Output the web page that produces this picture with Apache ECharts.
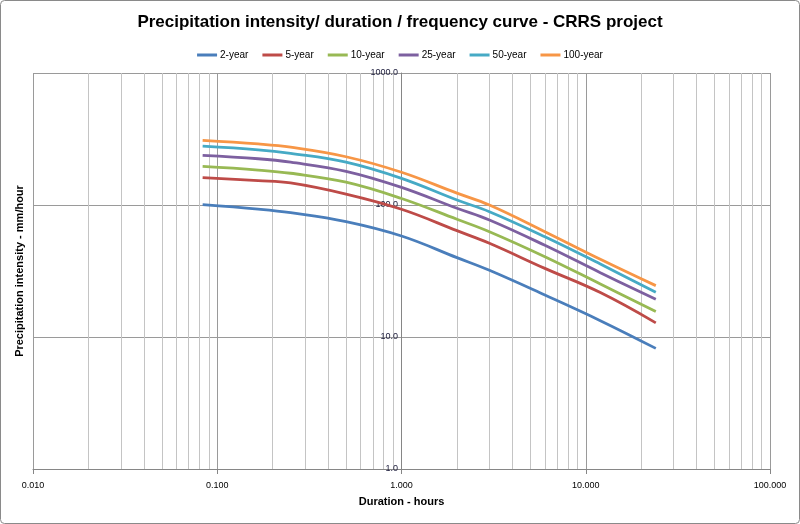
<!DOCTYPE html>
<html>
<head>
<meta charset="utf-8">
<script src="https://cdn.jsdelivr.net/npm/echarts@6/dist/echarts.min.js"></script>
<style>
html,body{margin:0;padding:0;background:#fff;}
#chart{width:800px;height:524px;}
</style>
</head>
<body>
<div id="chart"></div>
<script>
// Durations (hours)
const durations = [0.0833, 0.1667, 0.25, 0.5, 1, 2, 3, 6, 12, 24];
// Intensities (mm/hour) by return period
const y2   = [100.5, 93, 87.4, 74.8, 58.2, 39.9, 32, 20.8, 13.3, 8.2];
const y5   = [161, 153, 147, 121, 92.8, 63.9, 51.3, 33.1, 21.7, 12.8];
const y10  = [196, 184, 174, 149, 112, 78, 62.8, 40.6, 25.2, 15.6];
const y25  = [238, 224, 211, 180, 136, 94.4, 77, 49.5, 30.7, 19.3];
const y50  = [279, 262, 246, 211, 159, 109, 89, 57.5, 35.7, 21.8];
const y100 = [309, 290, 274, 232, 177, 123, 100, 62.8, 38.8, 24.5];
const seriesNames = ['2-year', '5-year', '10-year', '25-year', '50-year', '100-year'];
const seriesValues = [y2, y5, y10, y25, y50, y100];
const colors = ['#4A7EBB', '#BE4B48', '#98B954', '#7D60A0', '#46AAC5', '#F79646'];

const FONT = 'Liberation Sans';
const chart = echarts.init(document.getElementById('chart'));
const series = seriesNames.map((name, i) => ({
  name: name,
  type: 'line',
  data: durations.map((d, j) => [d, seriesValues[i][j]]),
  smooth: 0.4,
  showSymbol: false,
  symbol: 'none',
  lineStyle: { width: 2.8, color: colors[i] },
  itemStyle: { color: colors[i] },
  z: 3
}));

chart.setOption({
  animation: false,
  textStyle: { fontFamily: FONT },
  graphic: [{
    type: 'rect', silent: true, z: -1,
    shape: { x: 0.5, y: 0.5, width: 799, height: 523, r: 4 },
    style: { fill: 'none', stroke: '#8a8a8a', lineWidth: 1 }
  }],
  title: {
    text: 'Precipitation intensity/ duration / frequency curve - CRRS project',
    left: 'center', top: 9,
    textStyle: { fontFamily: FONT, fontSize: 17, fontWeight: 'bold', color: '#000' }
  },
  legend: {
    top: 45, left: 'center',
    icon: 'rect', itemWidth: 20, itemHeight: 3, itemGap: 14,
    textStyle: { fontFamily: FONT, fontSize: 10, color: '#000', padding: [0, 0, 0, -2] },
    data: seriesNames
  },
  grid: { left: 33, right: 30, top: 73, bottom: 55, containLabel: false },
  xAxis: {
    type: 'log', logBase: 10, min: 0.01, max: 100,
    name: 'Duration - hours', nameLocation: 'middle', nameGap: 27,
    nameTextStyle: { fontFamily: FONT, fontSize: 11, fontWeight: 'bold', color: '#000' },
    axisLine: { show: true, lineStyle: { color: '#868686', width: 1 } },
    axisTick: { show: true, length: 5, inside: false, lineStyle: { color: '#868686' } },
    axisLabel: { fontSize: 9, color: '#000', margin: 12, formatter: v => Number(v).toFixed(3) },
    splitLine: { show: true, lineStyle: { color: '#9a9a9a', width: 1 } },
    minorTick: { show: false, splitNumber: 9 },
    minorSplitLine: { show: true, lineStyle: { color: '#c4c4c4', width: 1 } }
  },
  yAxis: {
    type: 'log', logBase: 10, min: 1, max: 1000,
    offset: -368,
    name: 'Precipitation intensity - mm/hour', nameLocation: 'middle', nameGap: 376, nameRotate: 90,
    nameTextStyle: { fontFamily: FONT, fontSize: 11, fontWeight: 'bold', color: '#000' },
    axisLine: { show: true, lineStyle: { color: '#868686', width: 1 } },
    axisTick: { show: false },
    axisLabel: { fontSize: 9, color: '#1a1a3a', margin: 3, formatter: v => Number(v).toFixed(1) },
    splitLine: { show: true, lineStyle: { color: '#9a9a9a', width: 1 } }
  },
  series: series
});
</script>
</body>
</html>
